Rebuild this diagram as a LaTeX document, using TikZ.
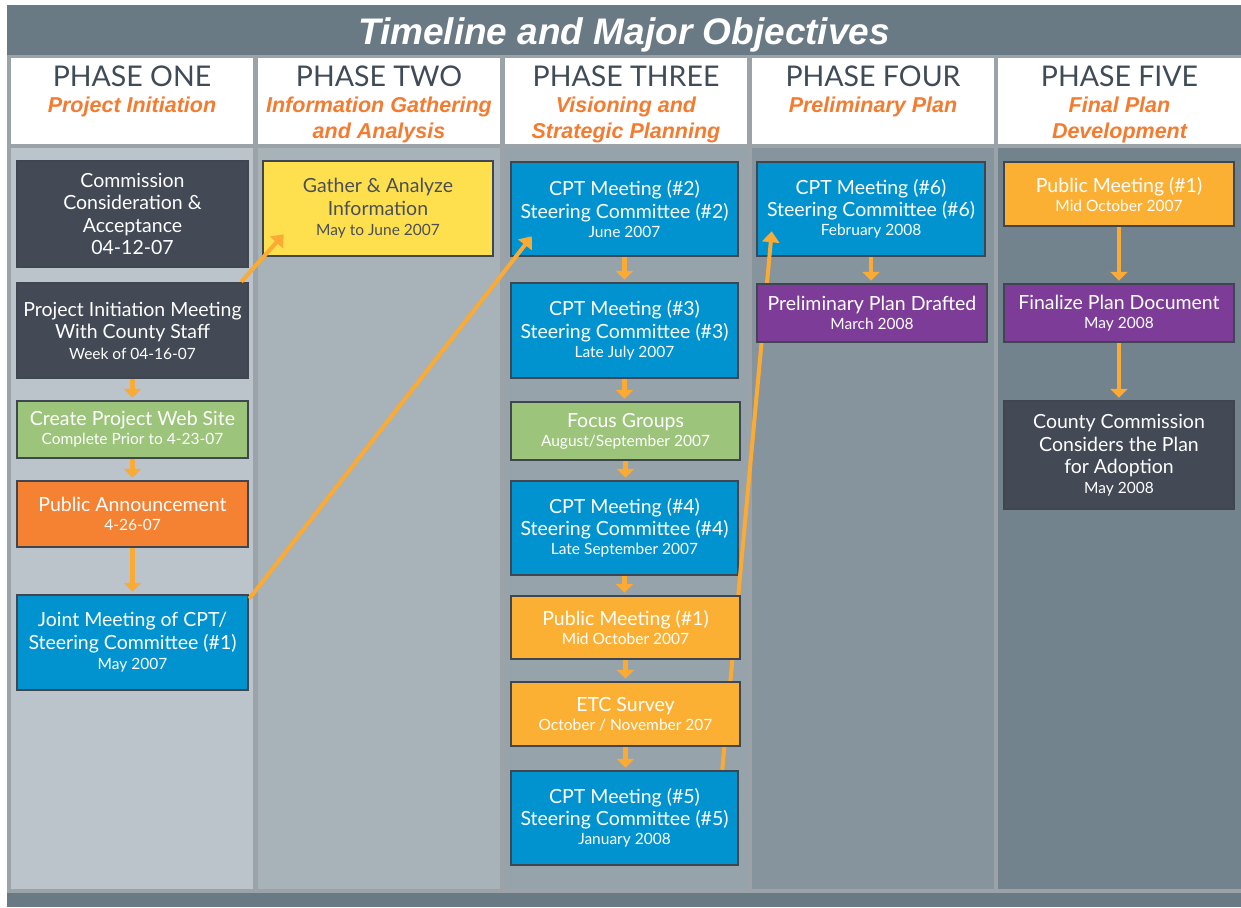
\documentclass[tikz,border=0pt]{standalone}
\usepackage{fontspec}
\setmainfont{Lato}
\newfontfamily\arialf{Liberation Sans}
\usetikzlibrary{arrows.meta,calc}
\definecolor{framec}{HTML}{9CA3A8}
\definecolor{titlec}{HTML}{6A7A85}
\definecolor{colA}{HTML}{BBC4CB}
\definecolor{colB}{HTML}{A8B2B9}
\definecolor{colC}{HTML}{97A3AA}
\definecolor{colD}{HTML}{86959D}
\definecolor{colE}{HTML}{73838D}
\definecolor{headc}{HTML}{3F4B57}
\definecolor{subc}{HTML}{F47B30}
\definecolor{darkc}{HTML}{434A56}
\definecolor{bordc}{HTML}{3F4650}
\definecolor{greenc}{HTML}{9CC47A}
\definecolor{orangec}{HTML}{F58233}
\definecolor{bluec}{HTML}{0093D0}
\definecolor{yellowc}{HTML}{FEE04F}
\definecolor{amberc}{HTML}{FBB034}
\definecolor{purplec}{HTML}{7D3C97}
\definecolor{arrc}{HTML}{FBAA33}
\definecolor{gtext}{HTML}{4A4F57}
\newcommand\dt[1]{{\fontsize{15.5}{17}\selectfont #1}}
\newcommand\tbox[7]{\node[box,fill=#2,minimum width={#5pt-#3pt},minimum height={#6pt-#4pt}] (#1) at ({(#3+#5)/2},{(#4+#6)/2}) {#7};}
\tikzset{
  box/.style={draw=bordc,line width=2.5pt,text=white,align=center,inner sep=0pt,font=\fontsize{19.5}{22.5}\selectfont},
  phasetxt/.style={anchor=base,text=headc,inner sep=0pt,font=\fontsize{28.5}{30}\selectfont},
  subtxt/.style={anchor=base,text=subc,inner sep=0pt,font=\arialf\bfseries\itshape\fontsize{21.5}{26}\selectfont},
  flow/.style={draw=arrc,line width=4.5pt,-{Triangle[width=17pt,length=9pt]}},
  diag/.style={draw=arrc,line width=4pt,-{Triangle[width=17pt,length=11pt]}}
}
\begin{document}
\begin{tikzpicture}[x=1pt,y=-1pt]
\useasboundingbox (0,0) rectangle (1241,907);
\fill[white] (0,0) rectangle (1241,907);
\fill[framec] (7,5) rectangle (1241,907);
\fill[titlec] (7,5) rectangle (1241,55);
\fill[titlec] (7,893) rectangle (1241,907);
% headers
\fill[white] (11,58) rectangle (253,144);
\fill[white] (258,58) rectangle (500,144);
\fill[white] (505,58) rectangle (747,144);
\fill[white] (752,58) rectangle (994,144);
\fill[white] (998,58) rectangle (1241,144);
% panels
\fill[colA] (11,148) rectangle (253,889);
\fill[colB] (258,148) rectangle (500,889);
\fill[colC] (505,148) rectangle (747,889);
\fill[colD] (752,148) rectangle (994,889);
\fill[colE] (998,148) rectangle (1241,889);
% title
\node[anchor=base,text=white,inner sep=0pt,font=\arialf\bfseries\itshape\fontsize{37}{40}\selectfont] (title) at (624,45) {Timeline and Major Objectives};
% phase headers
\node[phasetxt] (p1) at (132,86) {PHASE ONE};
\node[phasetxt] (p2) at (379,86) {PHASE TWO};
\node[phasetxt] (p3) at (626,86) {PHASE THREE};
\node[phasetxt] (p4) at (873,86) {PHASE FOUR};
\node[phasetxt] (p5) at (1119.5,86) {PHASE FIVE};
\node[subtxt] (s1) at (132,112) {Project Initiation};
\node[subtxt] (s2a) at (379,112) {Information Gathering};
\node[subtxt] (s2b) at (379,138) {and Analysis};
\node[subtxt] (s3a) at (626,112) {Visioning and};
\node[subtxt] (s3b) at (626,138) {Strategic Planning};
\node[subtxt] (s4) at (873,112) {Preliminary Plan};
\node[subtxt] (s5a) at (1119.5,112) {Final Plan};
\node[subtxt] (s5b) at (1119.5,138) {Development};
% column 1
\tbox{comm}{darkc}{17}{161}{248}{267}{Commission\\Consideration \&\\Acceptance\\04-12-07}
\tbox{init}{darkc}{17}{283}{248}{378}{Project Initiation Meeting\\With County Staff\\[-2pt]\dt{Week of 04-16-07}}
\tbox{web}{greenc}{17}{401}{248}{458}{Create Project Web Site\\[-3.5pt]\dt{Complete Prior to 4-23-07}}
\tbox{ann}{orangec}{17}{481}{248}{547}{Public Announcement\\[-3.5pt]\dt{4-26-07}}
\tbox{joint}{bluec}{17}{595}{248}{690}{Joint Meeting of CPT/\\Steering Committee (\#1)\\[-2pt]\dt{May 2007}}
% column 2
\node[box,fill=yellowc,text=gtext,minimum width=230pt,minimum height=95pt] (gather) at (378,208.5) {Gather \& Analyze\\Information\\[-2pt]\dt{May to June 2007}};
% column 3
\tbox{c2}{bluec}{511}{162}{738}{256}{CPT Meeting (\#2)\\Steering Committee (\#2)\\[-3.5pt]\dt{June 2007}}
\tbox{c3}{bluec}{511}{283}{738}{378}{CPT Meeting (\#3)\\Steering Committee (\#3)\\[-3.5pt]\dt{Late July 2007}}
\tbox{focus}{greenc}{511}{402}{740}{460}{Focus Groups\\[-3.5pt]\dt{August/September 2007}}
\tbox{c4}{bluec}{511}{481}{738}{575}{CPT Meeting (\#4)\\Steering Committee (\#4)\\[-3.5pt]\dt{Late September 2007}}
\tbox{c5}{bluec}{511}{771}{738}{865}{CPT Meeting (\#5)\\Steering Committee (\#5)\\[-3.5pt]\dt{January 2008}}
% column 4
\tbox{c6}{bluec}{757}{162}{985}{256}{CPT Meeting (\#6)\\Steering Committee (\#6)\\[-3.5pt]\dt{February 2008}}
% long arrow passing behind boxes
\draw[diag] ($(c5.north east)+(-17,0)$) -- ($(c6.south west)+(16,-26)$);
\tbox{pm}{amberc}{511}{596}{740}{659}{Public Meeting (\#1)\\[-3.5pt]\dt{Mid October 2007}}
\tbox{etc}{amberc}{511}{682}{740}{746}{ETC Survey\\[-3.5pt]\dt{October / November 207}}
\tbox{prelim}{purplec}{757}{284}{987}{342}{Preliminary Plan Drafted\\[-3.5pt]\dt{March 2008}}
% column 5
\tbox{pm5}{amberc}{1004}{162}{1234}{226}{Public Meeting (\#1)\\[-3.5pt]\dt{Mid October 2007}}
\tbox{fin}{purplec}{1004}{284}{1234}{342}{Finalize Plan Document\\[-3.5pt]\dt{May 2008}}
\tbox{county}{darkc}{1004}{401}{1234}{509}{County Commission\\Considers the Plan\\for Adoption\\[-3pt]\dt{May 2008}}
% diagonal arrows
\draw[diag] ($(init.north east)+(-8,0)$) -- ($(gather.south west)+(22,-23)$);
\draw[diag] ($(joint.north east)+(0,5)$) -- ($(c2.south west)+(22,-21)$);
% short arrows
\draw[flow] (init.south) -- ($(web.north)+(0,-2)$);
\draw[flow] (web.south) -- ($(ann.north)+(0,-2)$);
\draw[flow] (ann.south) -- ($(joint.north)+(0,-2)$);
\draw[flow] (c2.south) -- ($(c3.north)+(0,-2)$);
\draw[flow] (c3.south) -- ($(focus.north)+(-1,-2)$);
\draw[flow] (focus.south) -- ($(c4.north)+(1,-2)$);
\draw[flow] (c4.south) -- ($(pm.north)+(-1,-2)$);
\draw[flow] (pm.south) -- ($(etc.north)+(0,-2)$);
\draw[flow] (etc.south) -- ($(c5.north)+(1,-2)$);
\draw[flow] (c6.south) -- ($(prelim.north)+(-1,-2)$);
\draw[flow] (pm5.south) -- ($(fin.north)+(0,-2)$);
\draw[flow] (fin.south) -- ($(county.north)+(0,-2)$);
\end{tikzpicture}
\end{document}
